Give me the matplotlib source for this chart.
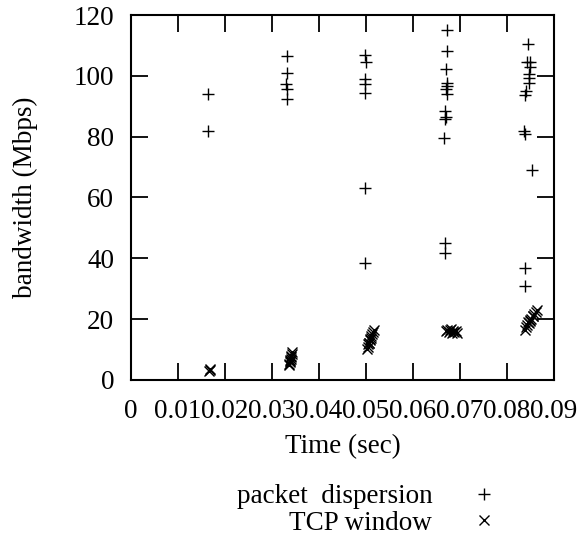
import matplotlib
matplotlib.use("Agg")
import matplotlib.pyplot as plt

plt.rcParams['font.family'] = ['Liberation Serif', 'DejaVu Serif']
plt.rcParams['font.size'] = 19.5

# packet dispersion estimates (time in sec, bandwidth in Mbps)
disp_t = [0.0163, 0.0163,
          0.0331, 0.0331, 0.0330, 0.0331, 0.0331,
          0.0498, 0.0499, 0.0498, 0.0497, 0.0498, 0.0498, 0.0498,
          0.0673, 0.0672, 0.0670, 0.0672, 0.0673, 0.0671, 0.0672,
          0.0669, 0.0670, 0.0668, 0.0667, 0.0668, 0.0668,
          0.0845, 0.0843, 0.0849, 0.0849, 0.0846, 0.0847, 0.0846,
          0.0840, 0.0838, 0.0837, 0.0838, 0.0853, 0.0838, 0.0838]
disp_bw = [94.0, 81.8,
           106.4, 100.8, 97.3, 95.6, 92.3,
           106.8, 104.6, 99.1, 97.3, 94.5, 63.0, 38.5,
           115.2, 108.2, 102.2, 97.8, 96.6, 95.6, 94.0,
           88.5, 86.6, 85.7, 79.7, 45.0, 41.8,
           110.4, 104.7, 104.7, 103.0, 100.5, 99.4, 97.8,
           95.0, 93.7, 81.9, 81.0, 69.2, 36.9, 30.8]

# TCP window estimates
tcp_t = [0.0167, 0.0168, 0.0169,
         0.0336, 0.0337, 0.0338, 0.0339, 0.0340, 0.0340, 0.0341, 0.0342, 0.0343, 0.0339,
         0.0502, 0.0504, 0.0505, 0.0506, 0.0508, 0.0509, 0.0511, 0.0513, 0.0515, 0.0517,
         0.0507, 0.0510,
         0.0670, 0.0673, 0.0676, 0.0679, 0.0682, 0.0685, 0.0688, 0.0691, 0.0694, 0.0680,
         0.0838, 0.0840, 0.0843, 0.0846, 0.0849, 0.0852, 0.0855, 0.0858, 0.0861, 0.0864,
         0.0845, 0.0850, 0.0855]
tcp_bw = [2.8, 3.2, 3.6,
          4.8, 5.3, 5.9, 6.4, 6.9, 7.4, 7.9, 8.5, 9.1, 6.7,
          10.2, 11.0, 11.7, 12.3, 13.0, 13.6, 14.3, 15.0, 15.8, 16.4,
          12.0, 13.9,
          16.0, 16.6, 15.8, 16.4, 15.5, 16.2, 15.7, 16.1, 15.6, 16.8,
          16.6, 17.4, 18.1, 18.8, 19.5, 20.2, 20.9, 21.6, 22.3, 23.0,
          19.0, 19.8, 21.2]

xticks = [0, 0.01, 0.02, 0.03, 0.04, 0.05, 0.06, 0.07, 0.08, 0.09]
xticklabels = ['0', '0.01', '0.02', '0.03', '0.04', '0.05', '0.06', '0.07', '0.08', '0.09']
yticks = [0, 20, 40, 60, 80, 100, 120]

fig = plt.figure(figsize=(5.85, 5.38), dpi=100)
ax = fig.add_axes([0.2239, 0.2937, 0.7231, 0.6784])

ax.plot(disp_t, disp_bw, linestyle='none', marker='+', markersize=8,
        markeredgewidth=1.0, color='black', label='packet  dispersion')
ax.plot(tcp_t, tcp_bw, linestyle='none', marker='x', markersize=7,
        markeredgewidth=1.0, color='black', label='TCP window')

ax.set_xlim(0, 0.09)
ax.set_ylim(0, 120)
ax.set_xticks(xticks)
ax.set_xticklabels(xticklabels)
ax.set_yticks(yticks)
ax.tick_params(direction='in', length=12, width=1.3, top=True, right=True)
ax.tick_params(axis='x', pad=14)
ax.tick_params(axis='y', pad=12)
for s in ax.spines.values():
    s.set_linewidth(1.5)

ax.set_xlabel('Time (sec)', labelpad=7)
ax.set_ylabel('bandwidth (Mbps)', labelpad=26)

ax.legend(loc='upper right', bbox_to_anchor=(0.872, -0.285), frameon=False,
          markerfirst=False, handlelength=1.2, handletextpad=1.3,
          labelspacing=0.06, borderaxespad=0, borderpad=0)

fig.savefig('out.png', dpi=100)
